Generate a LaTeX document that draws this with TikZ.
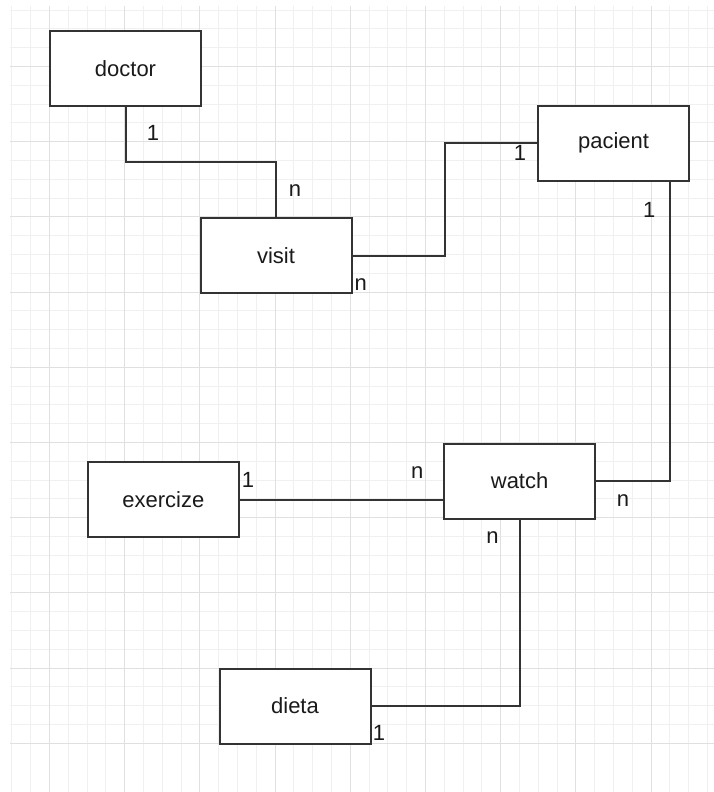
\documentclass[tikz,border=0pt]{standalone}
\usepackage{fontspec}
\setmainfont{Liberation Sans}
\usetikzlibrary{calc}
\definecolor{minorgrid}{HTML}{F0F0F0}
\definecolor{majorgrid}{HTML}{E0E0E0}
\definecolor{edgecol}{HTML}{333333}
\definecolor{txtcol}{HTML}{1A1A1A}
\tikzset{
  entity/.style={draw=edgecol, line width=2pt, fill=white, inner sep=0pt,
    minimum width=151pt, minimum height=75pt, text=txtcol,
    font=\fontsize{22}{26}\selectfont},
  conn/.style={draw=edgecol, line width=2pt},
  card/.style={inner sep=0pt, text=txtcol, font=\fontsize{22}{26}\selectfont},
  minorline/.style={draw=minorgrid, line width=1pt},
  majorline/.style={draw=majorgrid, line width=1pt}
}
\begin{document}
\begin{tikzpicture}[x=1pt,y=-1pt]
\useasboundingbox (0,0) rectangle (714,792);
\fill[white] (0,0) rectangle (714,792);
% grid
\begin{scope}
\clip (10,6) rectangle (714,792);
\foreach \i in {0,...,38} {
  \pgfmathsetmacro{\gx}{floor(11.9+\i*18.8)+0.5}
  \pgfmathsetmacro{\gy}{floor(10.1+\i*18.8)+0.5}
  \draw[minorline] (\gx,6) -- (\gx,792);
  \draw[minorline] (10,\gy) -- (714,\gy);
}
\foreach \i in {0,...,9} {
  \pgfmathsetmacro{\gx}{floor(49.5+\i*75.2)+0.5}
  \pgfmathsetmacro{\gy}{floor(66.5+\i*75.2)+0.5}
  \draw[majorline] (\gx,6) -- (\gx,792);
  \draw[majorline] (10,\gy) -- (714,\gy);
}
\end{scope}
% entities
\node[entity] (doctor) at (125.5,68.5) {doctor};
\node[entity] (visit) at (276,255.5) {visit};
\node[entity] (pacient) at (613.5,143.3) {pacient};
\node[entity] (exercize) at (163.3,499.7) {exercize};
\node[entity] (watch) at (519.6,481) {watch};
\node[entity] (dieta) at (295,706) {dieta};
% connectors
\draw[conn] (doctor.south) |- ($(doctor.south)!0.5!(visit.north)$) -| (visit.north);
\draw[conn] (visit.east) -| ($(visit.east)!0.5!(pacient.west)$) |- (pacient.west);
\coordinate (wp) at (669.6,481);
\draw[conn] (watch.east) -- (wp) -- (wp |- pacient.south);
\draw[conn] (exercize.east) -- (exercize.east -| watch.west);
\draw[conn] (watch.south) |- (dieta.east);
% cardinalities
\node[card] (c1) at (153,133) {1};
\node[card] (c2) at (295,190.7) {n};
\node[card] (c3) at (360.7,284.3) {n};
\node[card] (c4) at (520,152.7) {1};
\node[card] (c5) at (649.3,210) {1};
\node[card] (c6) at (247.9,480) {1};
\node[card] (c7) at (417.3,472.7) {n};
\node[card] (c8) at (623,500.7) {n};
\node[card] (c9) at (492.5,537.3) {n};
\node[card] (c10) at (379,733.3) {1};
\end{tikzpicture}
\end{document}
